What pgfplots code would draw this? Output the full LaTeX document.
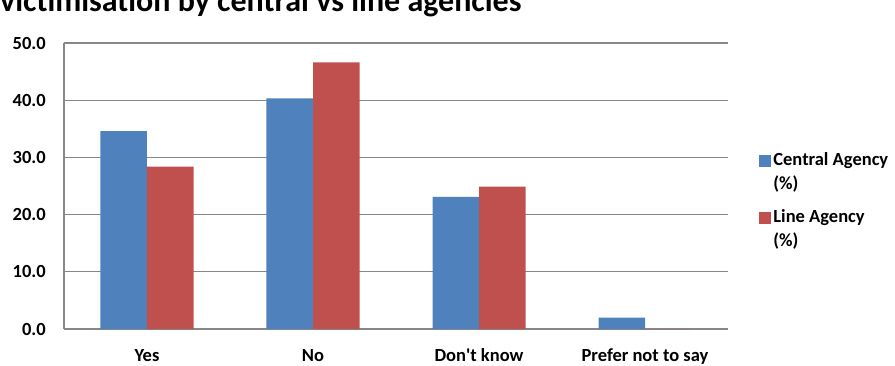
\documentclass[border=0pt]{standalone}
\usepackage{pgfplots}
\pgfplotsset{compat=1.18}
\usepackage{fontspec}
\setmainfont{Carlito}
\definecolor{centralblue}{HTML}{4F81BD}
\definecolor{linered}{HTML}{C0504D}
\definecolor{gridgray}{HTML}{878787}
\begin{document}
\begin{tikzpicture}[x=1pt,y=1pt]
\useasboundingbox (0,0) rectangle (895,365);
\clip (0,0) rectangle (895,365);
\node[anchor=base west, inner sep=0pt, font=\fontsize{32}{36}\selectfont\bfseries]
  at (0,353) {victimisation by central vs line agencies};
\begin{axis}[
  at={(64pt,36pt)}, anchor=south west, scale only axis,
  width=664pt, height=286pt,
  ybar=0pt, bar width=46.5pt,
  xmin=-0.5, xmax=3.5, ymin=0, ymax=50,
  xtick={0,1,2,3},
  xticklabels={Yes,No,Don\textquotesingle t know,Prefer not to say},
  ytick={0,10,20,30,40,50},
  ymajorgrids,
  grid style={gridgray, line width=1.3pt},
  axis x line*=bottom, axis y line*=left,
  axis line style={gridgray, line width=1.3pt, -},
  major tick length=0pt, tick style={draw=none},
  tick label style={font=\fontsize{18.5}{22}\selectfont\bfseries},
  /pgf/number format/assume math mode=true,
  yticklabel style={anchor=east, inner sep=0pt, xshift=-18pt,
    /pgf/number format/.cd, fixed, fixed zerofill, precision=1},
  xticklabel style={anchor=base, inner sep=0pt, yshift=-32pt},
  legend style={at={(1.047,0.625)}, anchor=north west, draw=none, fill=none,
    inner sep=0pt, row sep=15pt,
    font=\fontsize{18.5}{24}\selectfont\bfseries,
    cells={anchor=west, align=left}},
  legend cell align=left,
  legend image code/.code={\fill[#1] (0pt,5pt) rectangle (12pt,17pt);},
]
\addplot[fill=centralblue, draw=none] coordinates {(0,34.6) (1,40.3) (2,23.1) (3,2.0)};
\addplot[fill=linered, draw=none] coordinates {(0,28.4) (1,46.6) (2,24.9) (3,0.0)};
\legend{Central Agency\\(\%), Line Agency\\(\%)}
\end{axis}
\end{tikzpicture}
\end{document}
